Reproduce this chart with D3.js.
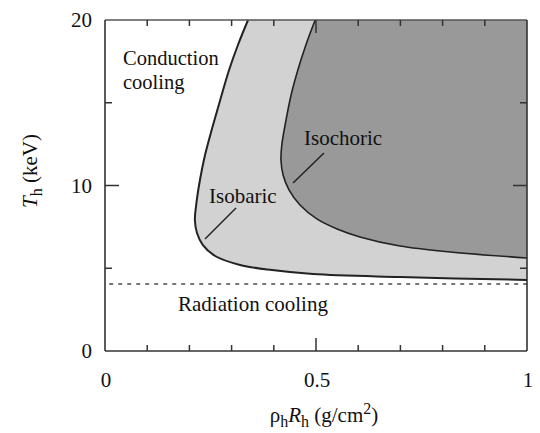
<!DOCTYPE html>
<html><head><meta charset="utf-8">
<script src="https://cdn.jsdelivr.net/npm/d3@7"></script>
<style>body{margin:0;background:#fff}svg{display:block}text{font-family:"Liberation Serif","Times New Roman",serif;fill:#111}</style>
</head><body>
<svg id="c" width="540" height="433"></svg>
<script>
// data: [rhoR (g/cm^2), T (keV)]
const isobaric = [[0.339,20.0],[0.315,18.49],[0.294,16.98],[0.273,15.17],[0.254,13.47],[0.237,11.84],[0.225,10.33],[0.216,8.82],[0.213,7.92],[0.218,7.13],[0.232,6.40],[0.261,5.74],[0.320,5.20],[0.396,4.89],[0.493,4.65],[0.699,4.47],[1.0,4.29]];
const isochoric = [[0.498,20.0],[0.476,18.49],[0.457,16.98],[0.441,15.47],[0.429,13.96],[0.419,12.45],[0.417,11.54],[0.422,10.63],[0.436,9.73],[0.462,8.82],[0.502,7.98],[0.550,7.37],[0.604,6.89],[0.699,6.34],[0.818,5.98],[1.0,5.62]];
const radiationLimit = 4.05;
const xTicks = [0,0.1,0.2,0.3,0.4,0.5,0.6,0.7,0.8,0.9,1];
const xLabels = [0,0.5,1];
const yTicks = [0,5,10,15,20];
const yLabels = [0,10,20];

const svg = d3.select("#c");
const x = d3.scaleLinear().domain([0,1]).range([105,527]);
const y = d3.scaleLinear().domain([0,20]).range([351,20]);

const line = d3.line().x(d=>x(d[0])).y(d=>y(d[1])).curve(d3.curveCatmullRom.alpha(0.5));
const corner = `L${x(1)},${y(20)}Z`;

svg.append("path").attr("d", line(isobaric)+corner).attr("fill","#d2d2d2");
svg.append("path").attr("d", line(isochoric)+corner).attr("fill","#999999");
svg.append("path").attr("d", line(isobaric)).attr("fill","none").attr("stroke","#222").attr("stroke-width",2);
svg.append("path").attr("d", line(isochoric)).attr("fill","none").attr("stroke","#222").attr("stroke-width",1.6);

// radiation dashed line
svg.append("line").attr("x1",x(0.01)).attr("x2",x(1)).attr("y1",y(radiationLimit)).attr("y2",y(radiationLimit))
  .attr("stroke","#777").attr("stroke-width",2).attr("stroke-dasharray","4,5");

// frame
const fr = svg.append("g").attr("fill","none");
fr.append("line").attr("x1",x(0)).attr("x2",x(1)).attr("y1",y(20)).attr("y2",y(20)).attr("stroke","#555").attr("stroke-width",1.5);
fr.append("line").attr("x1",x(1)).attr("x2",x(1)).attr("y1",y(20)).attr("y2",y(0)).attr("stroke","#333").attr("stroke-width",1.6);
fr.append("line").attr("x1",x(0)).attr("x2",x(0)).attr("y1",y(20)).attr("y2",y(0)).attr("stroke","#333").attr("stroke-width",1.6);
fr.append("line").attr("x1",x(0)).attr("x2",x(1)).attr("y1",y(0)).attr("y2",y(0)).attr("stroke","#333").attr("stroke-width",1.6);

// ticks (inward)
const tk = svg.append("g").attr("stroke","#333").attr("stroke-width",1.5);
xTicks.slice(1,-1).forEach(v=>{
  const L = (v===0.5)?13:6;
  tk.append("line").attr("x1",x(v)).attr("x2",x(v)).attr("y1",y(0)).attr("y2",y(0)-L);
  tk.append("line").attr("x1",x(v)).attr("x2",x(v)).attr("y1",y(20)).attr("y2",y(20)+L);
});
yTicks.slice(1,-1).forEach(v=>{
  const L = (v===10)?14:7;
  tk.append("line").attr("y1",y(v)).attr("y2",y(v)).attr("x1",x(0)).attr("x2",x(0)+L);
  tk.append("line").attr("y1",y(v)).attr("y2",y(v)).attr("x1",x(1)).attr("x2",x(1)-L);
});

const fs = 21;
// tick labels
svg.append("g").selectAll("text").data(xLabels).join("text")
  .attr("x",d=>x(d)+1).attr("y",387).attr("text-anchor","middle").attr("font-size",fs).text(d=>d);
svg.append("g").selectAll("text").data(yLabels).join("text")
  .attr("x",92).attr("y",d=>y(d)+7).attr("text-anchor","end").attr("font-size",fs).text(d=>d);

// annotations
svg.append("text").attr("x",123).attr("y",65).attr("font-size",20.5).text("Conduction");
svg.append("text").attr("x",123).attr("y",88.5).attr("font-size",20.5).text("cooling");
svg.append("text").attr("x",178).attr("y",311).attr("font-size",fs).text("Radiation cooling");
svg.append("text").attr("x",209).attr("y",203).attr("font-size",fs).text("Isobaric");
svg.append("text").attr("x",304).attr("y",145).attr("font-size",fs).text("Isochoric");
svg.append("line").attr("x1",236).attr("y1",208).attr("x2",205).attr("y2",239).attr("stroke","#222").attr("stroke-width",1.5);
svg.append("line").attr("x1",324).attr("y1",153).attr("x2",293).attr("y2",183).attr("stroke","#222").attr("stroke-width",1.5);

// axis titles
const xt = svg.append("text").attr("x",324).attr("y",422).attr("text-anchor","middle").attr("font-size",fs);
xt.append("tspan").text("ρ");
xt.append("tspan").attr("dy",5).attr("font-size",16).text("h");
xt.append("tspan").attr("dy",-5).attr("font-style","italic").text("R");
xt.append("tspan").attr("dy",5).attr("font-size",16).text("h");
xt.append("tspan").attr("dy",-5).text(" (g/cm");
xt.append("tspan").attr("dy",-8).attr("font-size",16).text("2");
xt.append("tspan").attr("dy",8).text(")");

const yt = svg.append("text").attr("transform","translate(37,171) rotate(-90)").attr("text-anchor","middle").attr("font-size",fs);
yt.append("tspan").attr("font-style","italic").text("T");
yt.append("tspan").attr("dy",5).attr("font-size",16).text("h");
yt.append("tspan").attr("dy",-5).text(" (keV)");
</script>
</body></html>
